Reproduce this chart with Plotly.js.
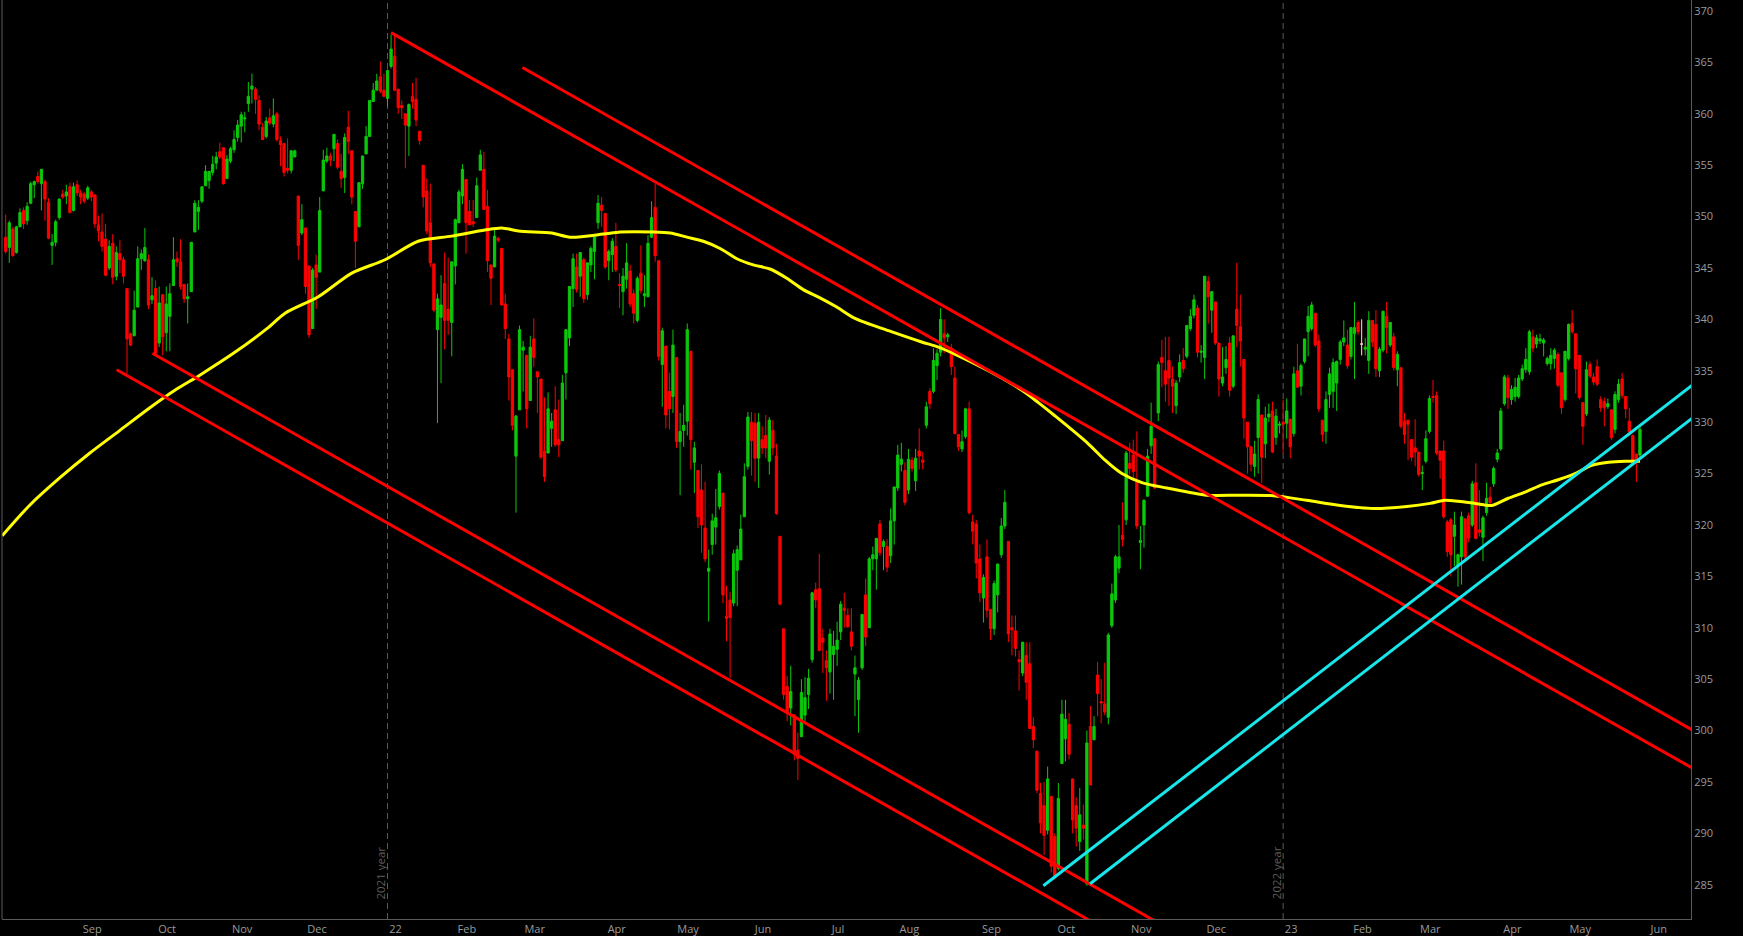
<!DOCTYPE html>
<html><head><meta charset="utf-8">
<script src="https://cdn.plot.ly/plotly-3.0.1.min.js"></script>
<style>html,body{margin:0;padding:0;background:#000;}#chart{width:1743px;height:936px;}</style>
</head><body><div id="chart"></div>
<script>
// ---- calendar (trading days) ----
const firstDay = '2021-08-02';
const holidays = ['2021-09-06','2021-11-25','2021-12-24','2022-01-17','2022-02-21','2022-04-15','2022-05-30','2022-06-20','2022-07-04','2022-09-05','2022-11-24','2022-12-26','2023-01-02','2023-01-16','2023-02-20','2023-04-07','2023-05-29','2023-06-19'];
const monthNames = ['Jan','Feb','Mar','Apr','May','Jun','Jul','Aug','Sep','Oct','Nov','Dec'];

// ---- daily candles ----
const open = [
348.0,347.0,348.8,346.5,349.0,350.6,349.6,351.3,353.1,353.9,
353.2,353.4,351.4,347.2,347.5,349.9,352.2,352.0,352.9,350.6,
353.1,352.3,352.2,351.8,352.4,352.1,349.2,348.5,347.8,345.0,
347.4,344.2,346.4,345.8,343.0,338.6,338.4,341.2,345.9,345.7,
345.8,341.9,343.0,337.7,342.4,338.7,340.3,343.3,345.9,345.6,
343.4,342.0,342.7,348.5,350.5,351.5,353.0,353.5,354.3,355.2,
356.3,356.7,353.7,355.4,356.5,357.7,358.8,359.5,361.0,362.4,
362.4,361.3,358.7,357.8,359.6,359.0,360.0,357.4,357.1,354.7,
354.5,355.8,352.0,348.4,348.9,345.2,339.1,345.3,344.6,352.5,
355.4,355.9,356.6,357.1,354.4,353.8,358.7,356.4,350.5,349.0,
353.2,356.1,357.8,361.2,362.3,363.6,362.3,361.5,364.6,365.6,
362.4,360.8,360.0,358.8,361.7,361.4,358.3,355.0,352.5,349.4,
345.4,339.0,340.2,343.5,341.0,339.7,345.2,349.4,352.0,353.6,
350.5,349.5,349.9,354.5,354.6,351.0,345.3,345.1,347.9,346.9,
341.5,338.1,335.1,326.7,331.2,337.0,336.5,332.1,338.1,334.9,
334.2,327.2,327.0,329.4,331.2,328.3,328.2,334.8,338.2,343.0,
345.1,344.2,345.8,342.4,345.3,346.6,349.4,351.1,350.3,345.7,
346.3,347.1,343.4,342.7,343.9,344.7,342.5,339.9,344.5,342.3,
342.2,348.0,350.9,345.7,335.6,337.4,333.0,332.5,336.3,328.1,
329.2,330.1,336.9,326.1,325.3,323.4,319.7,315.5,318.1,319.8,
321.8,323.1,311.1,312.7,312.4,315.6,316.6,320.8,325.7,330.0,
329.9,326.5,328.3,328.7,326.2,329.2,326.7,318.9,309.9,304.3,
302.2,301.5,298.1,299.4,301.5,303.5,306.9,313.7,313.8,309.0,
306.8,305.7,307.4,307.9,309.6,311.9,311.2,309.6,305.5,303.0,
306.1,313.2,310.0,316.7,316.7,320.1,317.9,317.9,317.0,320.4,
323.6,325.9,325.3,323.4,326.3,324.3,327.2,326.3,329.7,333.0,
333.0,335.5,336.8,338.6,338.3,337.2,334.3,328.8,327.4,328.6,
331.3,320.3,320.1,316.7,312.9,316.9,311.8,309.9,313.2,317.1,
319.9,318.4,310.0,309.7,306.9,305.6,307.3,306.5,300.4,298.0,
293.9,292.7,290.3,293.6,289.7,286.6,296.8,299.2,300.6,295.3,
292.7,289.2,290.8,285.1,300.4,299.1,305.4,302.8,302.6,301.3,
310.2,312.7,315.8,319.0,320.5,326.0,326.8,324.2,318.3,320.0,
322.8,327.7,328.4,330.9,336.3,335.0,336.0,334.2,331.6,334.4,
336.0,336.4,339.1,340.4,341.1,336.8,336.3,343.7,340.9,341.7,
337.7,333.8,335.3,337.7,333.5,341.0,339.3,336.1,330.0,327.6,
325.7,328.5,330.7,327.9,330.5,331.1,328.5,329.7,330.0,329.9,
330.3,328.9,335.0,333.5,335.9,338.8,339.1,340.6,337.9,330.2,
329.1,332.7,333.0,333.8,336.1,337.8,337.5,336.4,338.6,339.7,
337.6,337.1,336.0,339.9,339.5,335.0,337.0,340.3,337.5,338.3,
335.1,335.3,330.1,330.2,328.3,327.5,327.1,325.0,326.2,329.1,
332.5,332.6,327.2,327.2,320.3,320.5,318.9,316.0,316.9,320.6,
320.9,320.0,324.1,319.5,318.8,321.2,322.7,324.0,326.4,327.4,
331.8,334.3,332.2,332.5,332.5,334.2,335.1,334.9,338.3,337.6,
337.9,337.7,335.7,335.7,336.2,336.6,334.8,332.2,336.2,339.6,
338.6,336.5,331.9,330.8,335.6,334.4,335.4,332.2,332.0,331.5,
331.2,329.3,332.2,334.2,332.5,330.1,328.7,326.9,326.8];
const high = [
350.2,349.6,349.0,349.1,350.8,350.9,351.4,353.4,353.5,354.4,
354.6,353.6,351.8,348.3,349.7,351.8,352.6,353.1,353.3,353.3,
353.5,352.6,352.4,353.0,352.6,352.2,350.1,350.3,349.3,347.7,
348.3,347.1,347.7,346.1,343.0,338.7,342.8,347.1,346.8,348.9,
346.3,344.1,343.8,343.2,342.4,343.2,343.5,348.0,346.6,347.8,
343.4,343.5,347.5,351.6,351.6,352.9,355.0,354.4,355.9,356.3,
357.2,356.7,356.0,356.8,358.4,359.4,360.2,360.2,363.1,363.9,
362.6,361.8,359.1,359.7,360.5,361.5,360.2,357.8,357.1,357.6,
356.5,356.5,352.0,351.2,348.9,345.2,345.0,346.3,351.9,356.5,
356.7,356.2,358.0,357.5,356.1,358.1,360.3,356.4,350.5,353.3,
355.9,358.8,361.3,363.0,363.9,365.1,363.9,364.3,367.7,367.7,
362.4,361.3,360.0,361.0,363.0,363.5,358.3,355.0,353.7,353.2,
345.4,342.5,344.3,346.5,346.0,345.6,349.8,352.6,355.1,353.6,
351.6,351.6,353.8,356.5,356.3,352.6,345.3,348.7,348.0,346.9,
342.5,338.6,335.1,330.7,339.4,337.9,336.5,338.4,340.1,334.9,
334.2,332.4,332.9,330.9,333.5,332.2,334.6,339.0,343.2,346.4,
346.4,346.5,346.0,345.5,347.1,348.1,352.1,351.9,350.3,346.8,
347.9,349.4,344.5,345.0,347.4,345.3,342.9,344.2,347.2,344.3,
348.2,351.5,353.2,345.7,339.2,337.4,334.8,339.0,336.3,330.9,
331.7,339.6,336.9,328.1,325.3,325.9,324.2,317.6,321.1,323.5,
325.3,323.1,314.1,313.5,317.6,318.0,321.0,326.0,331.0,331.0,
330.9,330.9,329.6,330.7,330.5,330.2,327.9,318.9,309.9,305.3,
306.3,301.6,299.8,305.0,305.2,306.0,313.5,314.4,317.2,309.9,
307.8,309.9,309.7,310.6,312.6,313.4,311.9,311.9,307.3,305.2,
311.3,314.8,316.9,317.9,318.7,320.5,318.6,318.6,321.6,323.7,
327.8,328.0,326.1,327.4,326.6,327.4,329.4,327.1,332.0,333.3,
337.2,337.1,341.1,340.0,338.7,337.6,335.4,328.8,329.2,331.4,
332.0,321.0,320.5,318.1,315.2,318.6,311.8,314.6,316.2,320.7,
323.4,318.4,311.2,311.2,307.8,308.6,308.6,308.6,301.3,298.0,
294.9,295.0,296.5,293.6,290.0,294.9,303.0,303.0,301.7,295.3,
293.5,294.4,292.8,300.0,302.4,301.4,306.7,305.0,306.6,309.5,
314.3,317.1,320.0,322.2,327.2,328.0,328.3,329.1,319.9,322.5,
327.4,331.9,328.4,335.9,338.0,338.3,338.3,335.4,334.1,336.6,
337.2,339.4,341.0,342.4,341.4,337.5,344.2,344.2,342.7,341.7,
337.7,337.3,337.4,338.3,338.4,345.5,342.4,336.1,330.0,327.6,
328.2,332.7,330.7,331.5,331.8,332.0,331.3,330.1,332.2,332.3,
330.3,335.4,337.6,335.7,338.1,341.3,341.7,340.6,338.5,330.2,
333.0,335.3,336.2,336.0,338.0,339.9,339.0,339.2,341.7,339.9,
340.0,338.2,340.8,339.9,340.9,337.3,340.8,341.7,339.7,338.7,
336.9,335.3,330.9,330.2,328.3,330.3,327.1,325.8,329.2,332.6,
334.1,333.0,327.2,328.2,320.5,320.7,321.3,317.2,321.3,320.6,
321.2,324.3,326.0,323.4,320.9,324.1,323.7,325.7,327.4,331.4,
334.6,334.6,333.6,334.3,334.6,335.6,337.2,339.0,339.0,338.5,
338.6,338.2,336.4,337.2,337.2,336.8,334.8,336.9,339.6,340.9,
338.6,336.5,331.9,335.9,335.9,334.8,336.1,332.5,332.4,332.3,
331.2,333.0,334.2,334.8,332.5,331.4,328.8,326.9,329.6];
const low = [
346.4,345.5,346.1,346.4,349.0,348.8,349.2,351.2,351.8,353.2,
350.6,349.6,347.8,345.3,347.1,349.7,351.7,351.2,350.3,350.5,
352.0,351.2,351.3,351.6,351.5,348.9,347.6,346.6,344.2,344.8,
343.4,343.8,344.5,343.5,334.7,337.4,338.4,341.2,344.8,345.6,
341.0,341.5,336.5,337.3,336.5,336.9,336.9,343.3,345.1,342.9,
341.6,339.6,342.7,348.5,348.7,351.3,353.0,352.7,354.0,354.6,
355.6,353.1,353.7,355.2,356.2,357.3,357.2,358.2,360.2,361.0,
360.0,358.4,357.5,357.6,358.9,358.7,357.3,354.9,353.9,354.2,
354.2,355.8,345.8,348.2,342.5,338.2,339.1,341.0,344.6,352.5,
355.2,354.9,355.4,354.6,352.8,352.3,356.1,351.2,345.0,349.0,
352.7,356.1,357.8,361.2,362.3,362.0,361.6,360.7,364.4,362.2,
360.0,359.5,354.7,355.9,360.5,358.8,357.0,350.9,348.3,345.1,
340.7,329.9,333.8,337.1,338.5,336.4,343.4,349.4,351.2,346.4,
349.2,349.0,349.9,354.5,350.7,344.6,341.4,345.1,347.5,341.4,
338.1,332.1,329.2,321.2,331.2,333.0,329.4,332.1,335.4,330.9,
326.4,324.2,327.0,327.6,327.6,326.6,328.2,332.2,337.4,341.2,
342.6,342.2,341.6,341.9,344.6,343.9,348.8,349.0,344.9,343.8,
344.6,344.6,341.1,340.4,343.0,341.2,339.6,339.7,342.5,341.2,
342.2,347.9,345.6,336.0,331.5,329.4,329.3,330.9,327.5,322.9,
327.6,328.7,325.4,323.1,319.7,317.3,316.4,310.6,317.1,318.1,
321.5,312.4,308.7,305.1,312.1,312.1,316.6,320.8,325.4,324.8,
324.2,323.6,326.9,326.5,324.9,326.8,321.0,312.2,303.0,300.9,
300.5,297.1,295.2,299.4,300.9,302.1,306.6,311.9,307.7,305.6,
302.9,303.6,303.0,306.3,308.8,310.0,310.0,307.8,301.4,299.8,
305.9,308.2,310.0,315.6,313.7,317.0,315.6,315.4,316.3,318.1,
323.3,325.2,321.9,323.0,325.2,323.3,325.4,325.4,329.4,331.3,
332.8,334.1,336.4,336.7,337.8,334.6,328.8,327.2,327.1,328.4,
321.0,318.1,314.8,312.5,310.5,311.0,308.8,309.3,311.5,316.8,
319.6,308.6,307.3,307.2,303.9,305.3,303.0,300.2,298.3,293.9,
290.0,287.9,289.9,286.2,285.5,286.4,296.8,297.0,297.2,290.0,
288.7,288.3,289.4,284.9,294.7,299.1,301.4,300.7,301.5,300.6,
310.0,312.4,315.3,317.9,320.0,324.9,324.3,319.6,315.7,317.8,
322.8,326.9,323.5,330.1,333.4,332.0,331.6,330.9,330.8,333.9,
334.8,336.2,338.9,340.1,336.3,335.8,334.2,339.6,338.7,337.5,
332.5,333.5,334.7,332.5,333.3,337.3,335.4,328.4,325.0,325.2,
324.7,325.0,324.1,326.5,330.0,327.0,327.8,328.9,327.0,328.4,
326.5,328.6,333.4,332.6,335.7,336.4,338.9,337.3,331.0,328.1,
327.9,331.4,331.4,331.1,335.6,337.4,335.2,336.1,334.2,338.5,
336.5,336.5,334.7,337.3,334.4,334.4,336.8,336.7,337.3,335.0,
333.5,329.4,327.9,326.3,326.2,325.7,324.7,323.4,326.0,328.9,
331.9,326.8,324.5,320.6,316.9,315.0,316.0,314.0,314.2,316.5,
318.3,319.8,318.6,318.9,316.5,320.9,321.8,323.7,326.1,327.2,
331.6,331.3,331.7,332.0,332.3,334.0,334.8,334.6,336.8,337.2,
337.6,336.4,335.5,335.1,335.2,333.4,330.8,332.0,336.0,338.6,
332.8,332.2,327.8,330.6,334.3,333.6,333.5,331.0,329.6,331.3,
328.3,328.9,331.9,332.3,330.4,328.7,326.2,324.2,326.6];
const close = [
346.6,349.4,346.2,349.0,350.4,349.3,351.0,353.2,353.4,353.4,
354.6,351.7,347.9,347.5,349.5,351.7,351.9,352.4,350.4,352.9,
352.3,351.9,351.5,352.8,351.9,349.3,348.6,347.1,344.3,347.1,
344.1,346.5,345.8,344.2,338.1,337.5,340.9,345.9,346.4,347.0,
341.4,342.3,336.7,341.6,338.3,341.5,342.5,345.8,345.6,343.2,
342.0,342.2,347.5,351.3,350.9,352.9,354.4,354.4,355.1,355.8,
355.8,353.2,355.6,356.6,357.5,358.9,359.9,359.6,361.7,362.7,
361.4,359.0,357.5,359.3,359.1,359.8,357.5,357.0,354.3,354.5,
356.4,356.4,347.2,349.7,343.2,338.5,344.8,344.1,350.6,355.5,
355.9,355.5,358.0,354.8,353.7,357.7,357.3,351.9,347.6,353.3,
355.9,357.8,361.3,362.3,363.2,362.2,361.7,364.2,366.3,362.3,
360.6,360.6,358.9,360.9,361.2,359.4,357.4,351.9,348.6,345.5,
340.9,342.0,341.4,339.9,339.9,345.6,349.7,352.4,354.6,349.4,
349.2,349.3,353.0,356.0,350.7,345.7,344.0,348.1,347.7,341.4,
339.1,334.4,329.7,330.6,339.0,337.3,331.3,337.3,336.3,334.4,
326.6,324.7,331.3,330.1,327.8,327.8,333.8,339.0,343.2,345.9,
342.9,346.5,342.0,345.5,346.9,348.0,351.3,350.6,345.1,346.6,
347.6,344.8,343.3,344.2,345.5,341.5,340.6,344.0,342.8,342.5,
347.4,349.9,346.2,336.4,338.9,330.7,331.3,337.5,328.1,329.1,
329.7,339.0,328.3,327.5,320.8,320.0,316.7,315.8,320.4,320.7,
325.0,313.2,310.9,311.0,317.2,317.6,319.6,324.7,330.5,328.2,
326.5,330.0,327.5,327.5,330.2,327.5,321.1,312.3,303.5,301.8,
303.8,297.7,297.3,303.7,303.2,305.1,313.4,312.7,307.8,308.6,
306.1,309.4,308.2,308.8,312.3,311.7,310.1,308.2,306.1,304.9,
311.3,309.1,316.7,317.1,318.7,317.3,318.4,315.9,320.4,323.7,
326.8,326.4,322.2,326.4,325.5,326.5,326.7,326.1,331.5,331.8,
336.0,336.7,340.0,338.2,338.5,335.4,328.9,327.6,328.1,331.3,
321.2,319.4,316.3,313.4,314.9,311.7,309.9,314.3,316.2,319.9,
322.2,309.4,309.8,308.0,306.7,308.6,304.7,300.2,299.1,294.2,
291.0,289.8,295.3,286.8,285.9,293.4,301.6,301.1,297.7,291.3,
290.5,291.8,290.5,298.8,294.7,300.4,303.6,302.7,301.8,309.3,
313.3,316.9,316.9,318.6,327.0,325.5,325.2,319.9,318.5,322.4,
326.7,329.6,323.6,335.6,335.8,333.7,334.3,333.5,333.8,335.8,
335.2,339.4,340.3,341.9,336.8,336.9,344.2,342.2,342.7,337.7,
334.2,334.4,336.1,333.1,338.4,339.4,337.9,330.4,327.6,325.9,
326.9,332.2,326.6,330.4,330.8,327.1,330.6,329.8,329.8,331.1,
327.6,334.7,333.4,335.5,338.1,340.3,341.4,337.5,331.3,328.8,
332.2,334.7,335.8,335.9,337.8,338.2,335.5,339.2,339.2,338.8,
337.6,337.3,339.9,337.8,335.2,337.1,340.8,339.2,339.7,335.3,
336.6,329.6,328.8,329.8,326.6,327.1,324.9,325.1,328.4,332.3,
332.4,327.0,326.3,320.8,317.4,317.1,320.0,317.1,320.8,316.9,
318.7,324.0,318.7,319.3,320.7,322.6,322.2,325.5,327.0,331.1,
334.4,332.4,333.2,333.4,334.3,335.2,336.1,338.8,337.2,338.2,
338.1,338.0,336.2,336.5,337.0,333.6,331.4,336.9,339.5,338.8,
335.2,332.4,329.6,335.1,334.5,333.9,333.7,331.4,331.4,331.8,
328.5,332.7,333.7,332.6,331.3,329.1,326.3,326.3,329.3];

// ---- moving average (yellow), sampled along the curve: bar number / value ----
const maBar = [-1.0,6.8,15.2,23.6,32.0,40.4,47.4,54.5,63.8,73.2,78.3,87.6,97.0,106.3,115.6,125.0,134.3,139.0,143.7,153.0,158.2,167.5,172.2,181.5,186.2,190.9,195.5,200.2,204.9,209.5,214.2,218.9,223.5,228.2,232.9,238.0,247.4,256.7,261.4,266.1,275.4,284.8,289.4,294.1,303.4,308.1,312.8,318.6,325.4,336.6,345.9,355.3,364.6,374.0,383.3,392.7,399.2,403.4,407.1,411.8,416.5,421.1,425.8,430.5,435.1,439.8,444.5,449.2,453.8,458.0];
const maVal = [318.95,321.95,324.6,327.0,329.2,331.4,333.1,334.6,336.7,339.1,340.6,342.2,344.5,345.8,347.6,348.1,348.7,348.9,348.6,348.4,348.0,348.3,348.5,348.5,348.4,348.0,347.6,346.9,345.9,345.3,344.9,344.0,342.9,342.1,341.2,340.1,338.9,337.8,337.3,336.6,335.0,333.1,331.9,330.6,327.9,326.3,325.0,324.1,323.6,322.9,322.9,322.85,322.4,321.9,321.6,321.8,322.1,322.4,322.3,322.1,321.9,322.6,323.2,323.9,324.4,325.0,325.8,326.1,326.2,326.2];

// ---- trend lines: [bar number], [price] ----
const redTop1Bar = [108.0, 476], redTop1Val = [367.9, 295.7];
const redTop2Bar = [144.8, 476], redTop2Val = [364.5, 299.4];
const redLow1Bar = [31.1, 310],  redLow1Val = [335.1, 280.3];
const redLow2Bar = [41.1, 325],  redLow2Val = [336.7, 280.9];
const cyan1Bar = [290.8, 476],   cyan1Val = [284.9, 334.5];
const cyan2Bar = [303.9, 476],   cyan2Val = [285.1, 331.3];

const yTicks = [285,290,295,300,305,310,315,320,325,330,335,340,345,350,355,360,365,370];
const yearMarks = [{date:'2022-01-03', text:'2021 year'},{date:'2023-01-03', text:'2022 year'}];

// ---- build trading-day calendar ----
function fmt(d){return d.toISOString().slice(0,10);}
const dates = [];
{
  let d = new Date(firstDay+'T00:00:00Z');
  while(dates.length < 480){
    const wd = d.getUTCDay();
    const s = fmt(d);
    if(wd!==0 && wd!==6 && holidays.indexOf(s)<0) dates.push(s);
    d.setUTCDate(d.getUTCDate()+1);
  }
}
const n = close.length;
const bars = [...Array(n).keys()];
const tickvals = [], ticktext = [];
for(let i=1;i<dates.length;i++){
  if(dates[i].slice(5,7)!==dates[i-1].slice(5,7)){
    const m = +dates[i].slice(5,7);
    tickvals.push(i);
    ticktext.push(m===1 ? dates[i].slice(2,4) : monthNames[m-1]);
  }
}
const dojiIdx = bars.filter(i=>open[i]===close[i]);

const GREEN='#0bc80b', RED='#ff0000';
const traces = [
 {type:'candlestick', x:bars, open:open, high:high, low:low, close:close, text:dates.slice(0,n),
  increasing:{line:{color:GREEN,width:1},fillcolor:GREEN},
  decreasing:{line:{color:RED,width:1},fillcolor:RED}, whiskerwidth:0, hoverinfo:'skip'},
 {type:'candlestick', x:dojiIdx, open:dojiIdx.map(i=>open[i]), high:dojiIdx.map(i=>high[i]), low:dojiIdx.map(i=>low[i]), close:dojiIdx.map(i=>close[i]),
  increasing:{line:{color:'#d8d8d8',width:1},fillcolor:'#d8d8d8'},
  decreasing:{line:{color:'#d8d8d8',width:1},fillcolor:'#d8d8d8'}, whiskerwidth:0, hoverinfo:'skip'},
 {type:'scatter', mode:'lines', x:maBar, y:maVal, line:{color:'#ffff00', width:3, shape:'spline', smoothing:0.8}, hoverinfo:'skip'},
 {type:'scatter', mode:'lines', x:redTop1Bar, y:redTop1Val, line:{color:RED,width:3}, hoverinfo:'skip'},
 {type:'scatter', mode:'lines', x:redTop2Bar, y:redTop2Val, line:{color:RED,width:3}, hoverinfo:'skip'},
 {type:'scatter', mode:'lines', x:redLow1Bar, y:redLow1Val, line:{color:RED,width:3}, hoverinfo:'skip'},
 {type:'scatter', mode:'lines', x:redLow2Bar, y:redLow2Val, line:{color:RED,width:3}, hoverinfo:'skip'},
 {type:'scatter', mode:'lines', x:cyan1Bar, y:cyan1Val, line:{color:'#17e6ea',width:3}, hoverinfo:'skip'},
 {type:'scatter', mode:'lines', x:cyan2Bar, y:cyan2Val, line:{color:'#17e6ea',width:3}, hoverinfo:'skip'}
];

const shapes = [{type:'line', xref:'paper', yref:'paper', x0:0, x1:0, y0:0, y1:1, line:{color:'#5a5a5a', width:1}}];
const annotations = [];
yearMarks.forEach(m=>{
  const xi = dates.indexOf(m.date);
  shapes.push({type:'line', xref:'x', yref:'paper', x0:xi, x1:xi, y0:0, y1:1, layer:'below', line:{color:'#5a5a5a', width:1, dash:'6px,4px'}});
  annotations.push({xref:'x', yref:'paper', x:xi, xshift:-7, y:0.019, text:m.text, textangle:-90, showarrow:false, font:{family:'Open Sans, sans-serif', size:11.5, color:'#5e5e5e'}});
});

const axFont = {family:'Open Sans, sans-serif', size:11, color:'#9a9a9a'};
const layout = {
  width:1743, height:936,
  paper_bgcolor:'#000', plot_bgcolor:'#000',
  margin:{l:2, r:52, t:0, b:17},
  showlegend:false, boxgap:0.2, boxgroupgap:0.2, hovermode:false,
  xaxis:{type:'linear', range:[-1.04, 472.3], showgrid:false, zeroline:false, showline:true, linecolor:'#5a5a5a', linewidth:1,
         tickmode:'array', tickvals:tickvals, ticktext:ticktext, ticks:'', tickfont:axFont, ticklabelshift:8,
         rangeslider:{visible:false}, fixedrange:true},
  yaxis:{side:'right', range:[281.67, 371.07], showgrid:false, zeroline:false, showline:true, linecolor:'#5a5a5a', linewidth:1,
         tickmode:'array', tickvals:yTicks, ticks:'', tickfont:axFont, fixedrange:true},
  shapes:shapes, annotations:annotations
};
Plotly.newPlot('chart', traces, layout, {staticPlot:true, displayModeBar:false});
</script>
</body></html>
